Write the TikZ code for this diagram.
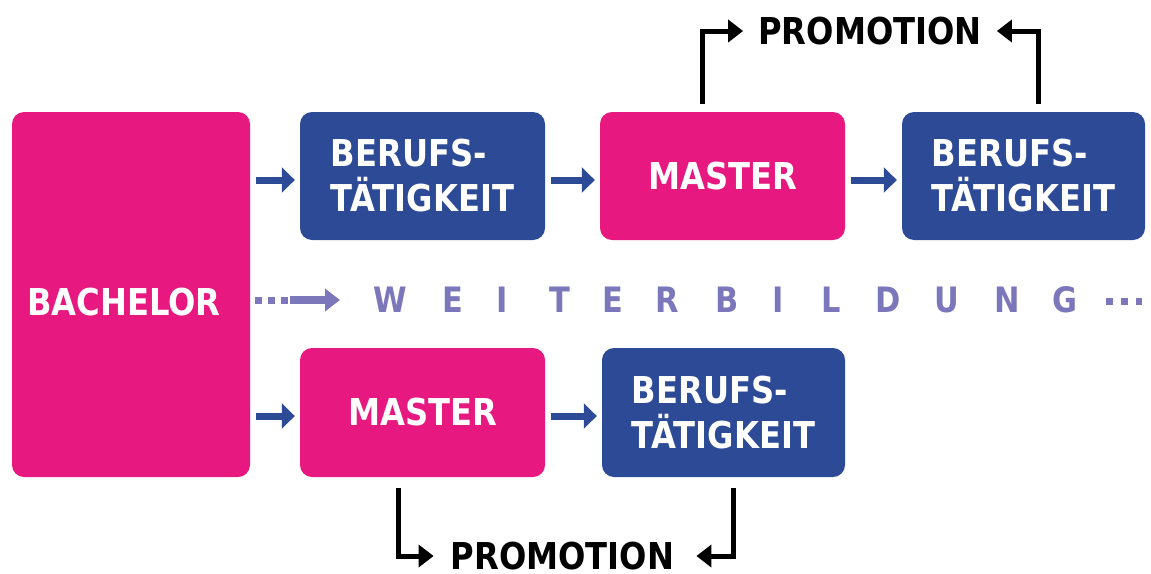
\documentclass[tikz,border=0pt]{standalone}
\usepackage{fontspec}
\setmainfont{DejaVu Sans}[FakeStretch=0.87]
\usetikzlibrary{arrows.meta}
\definecolor{magentabox}{RGB}{231,24,128}
\definecolor{navybox}{RGB}{44,74,150}
\definecolor{lilac}{RGB}{123,119,186}
\begin{document}
\begin{tikzpicture}[x=1pt,y=-1pt,
  box/.style={rounded corners=12pt, inner sep=0pt, text=white, align=left,
    minimum width=245pt, minimum height=128pt,
    font=\fontsize{37}{45}\selectfont\bfseries},
  pinkbox/.style={box, fill=magentabox},
  bluebox/.style={box, fill=navybox},
  boxtext/.style={inner sep=0pt, text=white, font=\fontsize{37}{45}\selectfont\bfseries},
  flow/.style={draw=navybox, line width=7pt, -{Triangle[length=13pt,width=25pt]},
    shorten <=6pt, shorten >=5pt},
  promo/.style={inner sep=0pt, font=\fontsize{37}{40}\selectfont\bfseries},
  bendarrow/.style={draw=black, line width=5pt, -{Triangle[length=15pt,width=22pt]}},
  letter/.style={inner sep=0pt, text=lilac, font=\fontsize{35}{40}\selectfont\bfseries},
  dots/.style={draw=lilac, line width=7pt, dash pattern=on 7pt off 6pt},
  lilacflow/.style={draw=lilac, line width=8pt, -{Triangle[length=15pt,width=22pt]}},
]
\useasboundingbox (0,0) rectangle (1151,573);

% boxes
\node[pinkbox, minimum width=238pt, minimum height=365pt] (bach) at (131,294.5) {};
\node[boxtext] (bachtext) at ([xshift=-7pt,yshift=-7.5pt]bach.center) {BACHELOR};

\node[bluebox] (b1) at (422.5,176) {BERUFS-\\TÄTIGKEIT};
\node[pinkbox] (m1) at (722.5,176) {MASTER};
\node[bluebox, minimum width=243pt] (b2) at (1023.5,176) {BERUFS-\\TÄTIGKEIT};

\node[pinkbox, minimum height=129pt] (m2) at (422.5,412.5) {MASTER};
\node[bluebox, minimum width=243pt, minimum height=129pt] (b3) at (723.5,412.5) {BERUFS-\\TÄTIGKEIT};

% blue flow arrows
\coordinate (r1) at ([yshift=-4pt]b1.west);
\coordinate (r2) at ([yshift=-4pt]m1.west);
\coordinate (r3) at ([yshift=-4pt]b2.west);
\coordinate (r4) at ([yshift=-3.5pt]m2.west);
\coordinate (r5) at ([yshift=-3.5pt]b3.west);
\draw[flow] (bach.east |- r1) -- (r1);
\draw[flow] (b1.east |- r2) -- (r2);
\draw[flow] (m1.east |- r3) -- (r3);
\draw[flow] (bach.east |- r4) -- (r4);
\draw[flow] (m2.east |- r5) -- (r5);

% Weiterbildung line
\foreach \ch/\cx [count=\i] in {W/390,E/453,I/502,T/560,E/613,R/667,B/727,I/778,L/831,D/888,U/947,N/1007,G/1065}
  \node[letter] (w\i) at (\cx,300) {\ch};
\coordinate (dotsend) at ([xshift=40pt]bach.east |- w1.center);
\draw[dots] ([xshift=5pt]bach.east |- w1.center) -- (dotsend);
\draw[lilacflow] (dotsend) -- ([xshift=-33pt]w1.west);
\coordinate (tail) at (1142,301);
\draw[dots, dash pattern=on 7pt off 8pt] ([xshift=28pt]w13.east |- tail) -- (tail);

% doctorate routes
\node[promo] (promo1) at (870,31) {PROMOTION};
\node[promo] (promo2) at (562.5,556) {PROMOTION};
\draw[bendarrow] ([xshift=-20pt,yshift=8pt]m1.north) |- ([xshift=-15pt]promo1.west);
\draw[bendarrow] ([xshift=14.5pt,yshift=8pt]b2.north) |- ([xshift=15pt]promo1.east);
\draw[bendarrow] ([xshift=-24.5pt,yshift=-11pt]m2.south) |- ([xshift=-17pt]promo2.west);
\draw[bendarrow] ([xshift=9.5pt,yshift=-11pt]b3.south) |- ([xshift=22pt]promo2.east);
\end{tikzpicture}
\end{document}
